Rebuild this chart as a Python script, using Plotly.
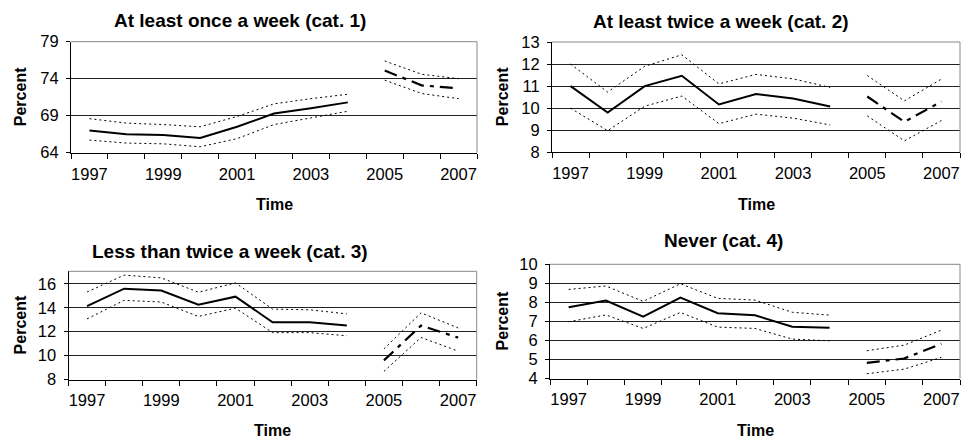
import plotly.graph_objects as go

years_obs = [1997, 1998, 1999, 2000, 2001, 2002, 2003, 2004]
years_fc = [2005, 2006, 2007]
tick_years = [1997, 1999, 2001, 2003, 2005, 2007]

titles = ["At least once a week (cat. 1)", "At least twice a week (cat. 2)",
          "Less than twice a week (cat. 3)", "Never (cat. 4)"]

# cat. 1
c1_obs = [67.0, 66.5, 66.4, 66.0, 67.5, 69.3, 70.0, 70.8]
c1_obs_hi = [68.6, 68.0, 67.8, 67.5, 68.9, 70.6, 71.3, 71.9]
c1_obs_lo = [65.7, 65.3, 65.2, 64.8, 65.9, 67.8, 68.7, 69.6]
c1_fc = [75.1, 73.1, 72.7]
c1_fc_hi = [76.4, 74.6, 74.0]
c1_fc_lo = [73.8, 72.0, 71.3]

# cat. 2
c2_obs = [11.0, 9.8, 11.0, 11.47, 10.17, 10.64, 10.44, 10.08]
c2_obs_hi = [12.0, 10.73, 11.9, 12.42, 11.1, 11.53, 11.33, 10.94]
c2_obs_lo = [10.0, 8.98, 10.09, 10.55, 9.3, 9.73, 9.55, 9.24]
c2_fc = [10.53, 9.38, 10.3]
c2_fc_hi = [11.48, 10.33, 11.32]
c2_fc_lo = [9.65, 8.52, 9.44]

# cat. 3
c3_obs = [14.14, 15.6, 15.44, 14.25, 14.93, 12.79, 12.79, 12.51]
c3_obs_hi = [15.32, 16.73, 16.5, 15.3, 16.08, 13.89, 13.83, 13.49]
c3_obs_lo = [13.07, 14.62, 14.48, 13.27, 13.97, 11.92, 11.92, 11.66]
c3_fc = [9.6, 12.51, 11.5]
c3_fc_hi = [10.56, 13.58, 12.31]
c3_fc_lo = [8.68, 11.52, 10.37]

# cat. 4
c4_obs = [7.74, 8.1, 7.25, 8.25, 7.43, 7.32, 6.72, 6.67]
c4_obs_hi = [8.68, 8.86, 8.05, 8.98, 8.21, 8.12, 7.48, 7.33]
c4_obs_lo = [6.98, 7.34, 6.63, 7.47, 6.7, 6.63, 6.07, 5.98]
c4_fc = [4.82, 5.05, 5.82]
c4_fc_hi = [5.46, 5.75, 6.54]
c4_fc_lo = [4.25, 4.49, 5.11]

y_ranges = [[64, 79], [8, 13], [8, 17.05], [4, 10]]
y_dticks = [5, 1, 2, 1]

panels = [
    (c1_obs, c1_obs_hi, c1_obs_lo, c1_fc, c1_fc_hi, c1_fc_lo),
    (c2_obs, c2_obs_hi, c2_obs_lo, c2_fc, c2_fc_hi, c2_fc_lo),
    (c3_obs, c3_obs_hi, c3_obs_lo, c3_fc, c3_fc_hi, c3_fc_lo),
    (c4_obs, c4_obs_hi, c4_obs_lo, c4_fc, c4_fc_hi, c4_fc_lo),
]

W, H = 962, 441


def px(x):
    return x / W


def py(y):
    return 1 - y / H


# plot-area pixel boxes: (left, right, top, bottom)
boxes = [(71, 477, 41.7, 152.7), (552, 960, 42, 152.3),
         (68.5, 476.7, 271.3, 379.5), (550, 960, 264.3, 378.5)]
title_pos = [(240, 20), (721, 21.5), (230, 251.5), (723, 240)]
ylab_x = [20, 502, 20, 502]
time_y = [204, 204, 430.5, 430]

FONT = "Liberation Sans, Arial, sans-serif"
fig = go.Figure()
dot = "2px,3px"
dashdot = "13px,6px,4px,6px"

for i, (obs, hi, lo, fc, fhi, flo) in enumerate(panels):
    xa = "x" if i == 0 else f"x{i+1}"
    ya = "y" if i == 0 else f"y{i+1}"
    for ys, dash, w in [(hi, dot, 1), (lo, dot, 1), (obs, "solid", 2)]:
        fig.add_trace(go.Scatter(x=years_obs, y=ys, mode="lines", xaxis=xa, yaxis=ya,
                                 line=dict(color="black", width=w, dash=dash), showlegend=False))
    for ys, dash, w in [(fhi, dot, 1), (flo, dot, 1), (fc, dashdot, 2.2)]:
        fig.add_trace(go.Scatter(x=years_fc, y=ys, mode="lines", xaxis=xa, yaxis=ya,
                                 line=dict(color="black", width=w, dash=dash), showlegend=False))
    l, r, t, b = boxes[i]
    xd = [px(l), px(r)]
    yd = [py(b), py(t)]
    xkey = "xaxis" if i == 0 else f"xaxis{i+1}"
    ykey = "yaxis" if i == 0 else f"yaxis{i+1}"
    fig.update_layout(**{
        xkey: dict(domain=xd, anchor=ya, range=[1996.5, 2007.5], tickmode="array", automargin=False,
                   tickvals=tick_years, ticktext=[str(v) for v in tick_years], ticks="",
                   showgrid=False, zeroline=False, showline=True, linecolor="black", linewidth=1,
                   tickfont=dict(family=FONT, size=16.5, color="black"), ticklabelstandoff=6,
                   minor=dict(tickmode="array", tickvals=[1996.5 + k for k in range(12)],
                              ticks="outside", ticklen=5, tickcolor="black", tickwidth=1, showgrid=False)),
        ykey: dict(domain=yd, anchor=xa, range=y_ranges[i], dtick=y_dticks[i], tick0=y_ranges[i][0],
                   automargin=False,
                   showgrid=True, gridcolor="#222", gridwidth=1, zeroline=False,
                   showline=True, linecolor="black", linewidth=1, ticks="outside", ticklen=4,
                   tickcolor="black", tickfont=dict(family=FONT, size=16.5, color="black"),
                   ticklabelstandoff=4),
    })
    # plot area border (top, right)
    fig.add_shape(type="line", xref=f"{xa} domain", yref=f"{ya} domain", x0=0, x1=1, y0=1, y1=1,
                  line=dict(color="#888", width=1), layer="above")
    fig.add_shape(type="line", xref=f"{xa} domain", yref=f"{ya} domain", x0=1, x1=1, y0=0, y1=1,
                  line=dict(color="#888", width=1), layer="above")
    tx, ty = title_pos[i]
    fig.add_annotation(text="<b>" + titles[i] + "</b>", x=px(tx), y=py(ty), xref="paper", yref="paper",
                       showarrow=False, xanchor="center", yanchor="middle",
                       font=dict(family=FONT, size=19, color="black"))
    fig.add_annotation(text="<b>Percent</b>", x=px(ylab_x[i]), y=py((t + b) / 2), xref="paper",
                       yref="paper", showarrow=False, textangle=-90, xanchor="center", yanchor="middle",
                       font=dict(family=FONT, size=16, color="black"))
    fig.add_annotation(text="<b>Time</b>", x=px((l + r) / 2), y=py(time_y[i]), xref="paper",
                       yref="paper", showarrow=False, xanchor="center", yanchor="middle",
                       font=dict(family=FONT, size=16, color="black"))

fig.update_layout(template="none", width=W, height=H, margin=dict(l=0, r=0, t=0, b=0, pad=0),
                  paper_bgcolor="white", plot_bgcolor="white", showlegend=False)
fig.write_html("out.html", config={"displayModeBar": False, "staticPlot": True},
               post_script="document.body.style.margin='0';document.body.style.overflow='hidden';")
